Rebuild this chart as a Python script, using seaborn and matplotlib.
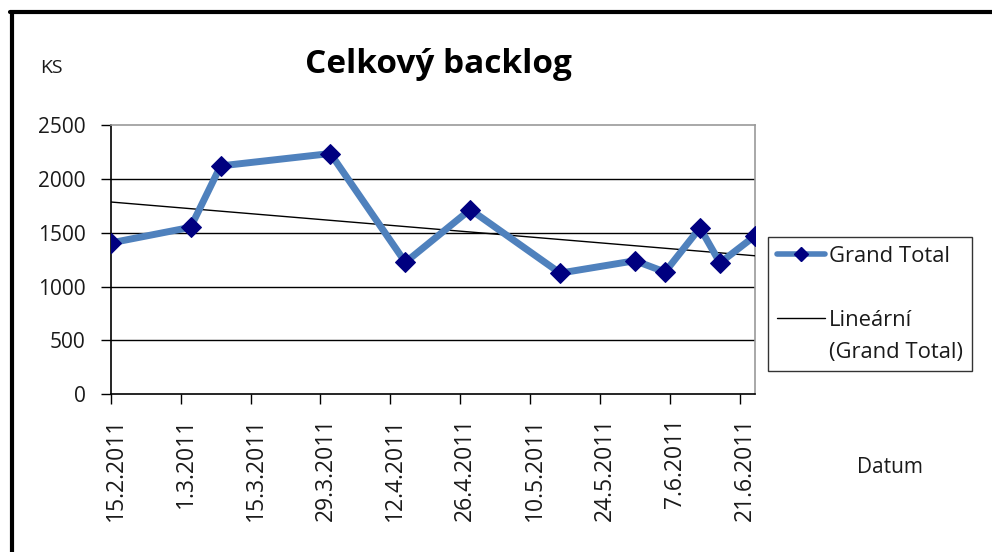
import numpy as np
import pandas as pd
import matplotlib
matplotlib.use("Agg")
import matplotlib.pyplot as plt
import matplotlib.dates as mdates
from matplotlib.lines import Line2D
from matplotlib.transforms import ScaledTranslation
import seaborn as sns

# ---- data ----
dates = ["2011-02-15", "2011-03-03", "2011-03-09", "2011-03-31", "2011-04-15",
         "2011-04-28", "2011-05-16", "2011-05-31", "2011-06-06", "2011-06-13",
         "2011-06-17", "2011-06-24"]
values = [1405, 1550, 2120, 2235, 1225, 1715, 1125, 1240, 1135, 1545, 1220, 1470]
tick_start = "2011-02-15"
n_ticks = 10
y_ticks = [0, 500, 1000, 1500, 2000, 2500]
title = "Celkový backlog"
series_label = "Grand Total"
trend_label_1 = "Lineární"
trend_label_2 = "(Grand Total)"

df = pd.DataFrame({"Datum": pd.to_datetime(dates), "KS": values})

# linear trend (Excel-style linear trendline over date axis)
xnum = mdates.date2num(df["Datum"])
coef = np.polyfit(xnum, df["KS"], 1)
df["trend"] = np.polyval(coef, xnum)

sns.set_theme(style="white")
plt.rcParams["font.family"] = ["Open Sans", "DejaVu Sans"]

BLUE = "#4F81BD"
NAVY = "#000080"
TXT = "#1a1a1a"

fig = plt.figure(figsize=(9.92, 5.52), dpi=100)
ax = fig.add_axes([0.1116, 0.2857, 0.6494, 0.4879])

sns.lineplot(data=df, x="Datum", y="trend", ax=ax, color="black", lw=1.0,
             zorder=3, legend=False)
sns.lineplot(data=df, x="Datum", y="KS", ax=ax, color=BLUE, lw=5.0,
             marker="D", markersize=10.5, markerfacecolor=NAVY,
             markeredgecolor=NAVY, zorder=4, legend=False)

ax.set_xlim(df["Datum"].min(), df["Datum"].max())
ax.set_ylim(0, 2500)
ax.set_yticks(y_ticks)
ax.set_yticklabels([str(v) for v in y_ticks])
for yv in y_ticks[1:-1]:
    ax.axhline(yv, color="black", lw=1.0, zorder=1)

ticks = pd.date_range(tick_start, periods=n_ticks, freq="14D")
ax.set_xticks(ticks)
ax.set_xticklabels([f"{d.day}.{d.month}.{d.year}" for d in ticks], rotation=90)

ax.tick_params(axis="both", which="major", direction="out", length=7, width=1,
               color="black", labelcolor=TXT, left=True, bottom=True)
ax.tick_params(axis="y", labelsize=15, pad=11)
ax.tick_params(axis="x", labelsize=16.5, pad=10)
off = ScaledTranslation(5 / 100, 0, fig.dpi_scale_trans)
for lab in ax.get_xticklabels():
    lab.set_transform(lab.get_transform() + off)
ax.set_xlabel("")
ax.set_ylabel("")
for s in ["left", "bottom"]:
    ax.spines[s].set_color("black")
    ax.spines[s].set_linewidth(1.2)
for s in ["top", "right"]:
    ax.spines[s].set_color("#999999")
    ax.spines[s].set_linewidth(1.2)

fig.text(0.442, 0.884, title, fontsize=24, fontweight="bold", ha="center",
         va="center", color="black")
fig.text(0.052, 0.877, "KS", fontsize=14, ha="center", va="center", color=TXT)
fig.text(0.897, 0.153, "Datum", fontsize=15, ha="center", va="center", color=TXT)

handles = [
    Line2D([], [], color=BLUE, lw=4, marker="D", markersize=7,
           markerfacecolor=NAVY, markeredgecolor=NAVY),
    Line2D([], [], color="none", lw=0),
    Line2D([], [], color="black", lw=1.0),
    Line2D([], [], color="none", lw=0),
]
labels = [series_label, " ", trend_label_1, trend_label_2]
leg = fig.legend(handles, labels, loc="upper left",
                 bbox_to_anchor=(0.774, 0.5707), frameon=True, fancybox=False,
                 edgecolor="black", fontsize=15.8, labelspacing=0.5,
                 handlelength=2.2, handletextpad=0.2, borderpad=0.4,
                 borderaxespad=0)
leg.get_frame().set_linewidth(1.0)
for t in leg.get_texts():
    t.set_color(TXT)

# outer chart frame (top and left edges visible)
fig.add_artist(Line2D([0.010, 1.0], [0.978, 0.978], transform=fig.transFigure,
                      color="black", lw=3.0))
fig.add_artist(Line2D([0.0125, 0.0125], [0.0, 0.978], transform=fig.transFigure,
                      color="black", lw=3.0))

fig.savefig("out.png", dpi=100)
